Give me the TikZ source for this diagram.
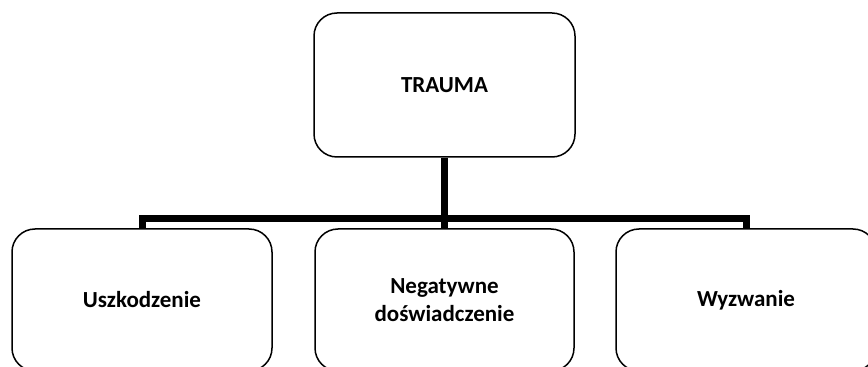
\documentclass[tikz,border=0pt]{standalone}
\usepackage{fontspec}
\setmainfont{Carlito}
\begin{document}
\begin{tikzpicture}[x=1pt,y=1pt,
  box/.style={draw, line width=1.5pt, rounded corners=23pt, inner sep=0pt,
    align=center, font=\fontsize{23}{28}\selectfont\bfseries},
  conn/.style={line width=7pt, line join=miter, line cap=butt}]
  \useasboundingbox (0,0) rectangle (868,367);
  \clip (0,0) rectangle (868,367);
  \node[box, minimum width=261pt, minimum height=144pt] (top) at (444.5,282) {TRAUMA};
  \node[box, minimum width=260pt, minimum height=142pt] (l) at (142,67) {Uszkodzenie};
  \node[box, minimum width=259pt, minimum height=142pt] (m) at (444.5,67) {Negatywne\\doświadczenie};
  \node[box, minimum width=260pt, minimum height=142pt] (r) at (746,67) {Wyzwanie};
  \coordinate (bar) at (444.5,148);
  \draw[conn] (top.south) -- (m.north);
  \draw[conn] (l.north) |- (bar) -| (r.north);
\end{tikzpicture}
\end{document}
